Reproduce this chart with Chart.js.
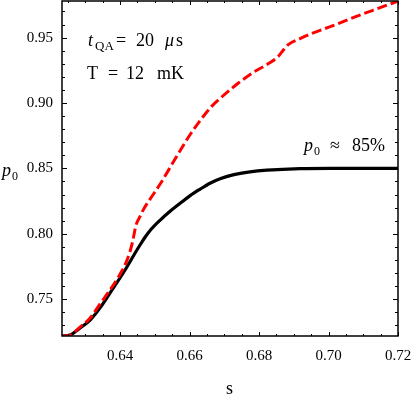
<!doctype html>
<html lang="en">
  <head>
    <meta charset="utf-8">
    <title>p0 vs s</title>
    <script src="https://cdn.jsdelivr.net/npm/chart.js"></script>
    <style>
      html, body { margin: 0; padding: 0; background: #fff; }
      #plot { display: block; }
    </style>
  </head>
  <body>
    <canvas id="plot" width="415" height="402"></canvas>
    <script>
      // values
      const sBlack = [0.6233, 0.6256, 0.6285, 0.6314, 0.6342, 0.6371, 0.6414, 0.6443, 0.6458, 0.6472, 0.6486, 0.6515, 0.6544,
                      0.6573, 0.6601, 0.6630, 0.6659, 0.6688, 0.6725, 0.6774, 0.6823, 0.6918, 0.7004, 0.7200];
      const pBlack = [0.7218, 0.7225, 0.7279, 0.7340, 0.7431, 0.7546, 0.7721, 0.7851, 0.7916, 0.7973, 0.8023, 0.8103, 0.8172,
                      0.8233, 0.8290, 0.8340, 0.8386, 0.8420, 0.8450, 0.8473, 0.8486, 0.8498, 0.8500, 0.8500];
      const sRed = [0.6233, 0.6256, 0.6285, 0.6314, 0.6342, 0.6371, 0.6400, 0.6414, 0.6429, 0.6437, 0.6446, 0.6458, 0.6466,
                    0.6486, 0.6515, 0.6558, 0.6601, 0.6639, 0.6665, 0.6688, 0.6737, 0.6783, 0.6832, 0.6855, 0.6869, 0.6884,
                    0.6918, 0.6947, 0.7013, 0.7082, 0.7140, 0.7200];
      const pRed = [0.7218, 0.7225, 0.7286, 0.7355, 0.7462, 0.7569, 0.7691, 0.7760, 0.7866, 0.7950, 0.8065, 0.8134, 0.8179,
                    0.8263, 0.8378, 0.8569, 0.8755, 0.8895, 0.8978, 0.9035, 0.9145, 0.9233, 0.9309, 0.9355, 0.9401, 0.9447,
                    0.9492, 0.9527, 0.9592, 0.9664, 0.9721, 0.9779];
      const xTicks = [0.64, 0.66, 0.68, 0.70, 0.72];
      const yTicks = [0.75, 0.80, 0.85, 0.90, 0.95];
      const xMinor = 0.005, yMinor = 0.01;
      const xRange = [0.6233, 0.72], yRange = [0.7218, 0.978];

      const serif = "'Liberation Serif', 'DejaVu Serif', serif";
      const pts = (xs, ys) => xs.map((x, i) => ({ x: x, y: ys[i] }));
      const noPad = s => { s.paddingLeft = 0; s.paddingRight = 0; s.paddingTop = 0; s.paddingBottom = 0; };

      // frame, inward ticks on all four sides, and the text labels
      const framePlugin = {
        id: 'frame',
        afterDraw(chart) {
          const ctx = chart.ctx, a = chart.chartArea;
          const xs = chart.scales.x, ys = chart.scales.y;
          ctx.save();
          ctx.strokeStyle = '#000';
          ctx.lineWidth = 1;
          ctx.beginPath();
          for (let v = Math.ceil(xRange[0] / xMinor) * xMinor; v <= xRange[1] + 1e-9; v += xMinor) {
            const major = xTicks.some(t => Math.abs(t - v) < 1e-6);
            const len = major ? 4 : 2;
            const px = Math.round(xs.getPixelForValue(v)) + 0.5;
            ctx.moveTo(px, a.bottom); ctx.lineTo(px, a.bottom - len);
            ctx.moveTo(px, a.top); ctx.lineTo(px, a.top + len);
          }
          for (let v = Math.ceil(yRange[0] / yMinor) * yMinor; v <= yRange[1] + 1e-9; v += yMinor) {
            const major = yTicks.some(t => Math.abs(t - v) < 1e-6);
            const len = major ? 5 : 3;
            const py = Math.round(ys.getPixelForValue(v)) + 0.5;
            ctx.moveTo(a.left, py); ctx.lineTo(a.left + len, py);
            ctx.moveTo(a.right, py); ctx.lineTo(a.right - len, py);
          }
          ctx.stroke();
          ctx.lineWidth = 1.5;
          ctx.strokeRect(a.left, a.top, a.right - a.left, a.bottom - a.top);

          ctx.fillStyle = '#000';
          ctx.textBaseline = 'alphabetic';
          const txt = (s, x, y, size, italic) => {
            ctx.font = (italic ? 'italic ' : '') + size + 'px ' + serif;
            ctx.fillText(s, x, y);
          };
          // annotations
          txt('t', 88, 46, 18, true);
          txt('QA', 95, 50, 13, false);
          txt('=', 116, 46, 18, false);
          txt('20', 136, 46, 18, false);
          txt('\u03bc', 165, 46, 18, true);
          txt('s', 176, 46, 18, false);
          txt('T', 87, 79, 18, false);
          txt('=', 108, 79, 18, false);
          txt('12', 126, 79, 18, false);
          txt('mK', 157, 79, 18, false);
          txt('p', 304, 151, 18, true);
          txt('0', 314, 155, 12, false);
          txt('\u2248', 330, 151, 18, false);
          txt('85%', 352, 151, 18, false);
          // axis titles
          txt('p', 2, 176, 18, true);
          txt('0', 12, 180, 12, false);
          txt('s', 226, 394, 18, false);
          ctx.restore();
        }
      };

      new Chart(document.getElementById('plot'), {
        type: 'line',
        data: {
          datasets: [
            { label: 'red', data: pts(sRed, pRed), borderColor: '#ff0000', borderWidth: 3, borderDash: [10, 4],
              pointRadius: 0, fill: false, cubicInterpolationMode: 'monotone' },
            { label: 'black', data: pts(sBlack, pBlack), borderColor: '#000000', borderWidth: 3.2,
              pointRadius: 0, fill: false, cubicInterpolationMode: 'monotone' }
          ]
        },
        options: {
          responsive: false,
          animation: false,
          devicePixelRatio: 1,
          layout: { padding: { top: 1, right: 17, left: 0, bottom: 0 } },
          plugins: { legend: { display: false }, tooltip: { enabled: false } },
          scales: {
            x: {
              type: 'linear', min: xRange[0], max: xRange[1],
              afterBuildTicks: s => { s.ticks = xTicks.map(v => ({ value: v })); },
              afterFit: s => { s.height = 66; noPad(s); },
              grid: { display: false, drawTicks: false },
              border: { display: false },
              ticks: { color: '#000', font: { family: serif, size: 15 }, padding: 11, maxRotation: 0,
                       callback: v => v.toFixed(2) }
            },
            y: {
              type: 'linear', min: yRange[0], max: yRange[1],
              afterBuildTicks: s => { s.ticks = yTicks.map(v => ({ value: v })); },
              afterFit: s => { s.width = 62; noPad(s); },
              grid: { display: false, drawTicks: false },
              border: { display: false },
              ticks: { color: '#000', font: { family: serif, size: 15 }, padding: 9,
                       callback: v => v.toFixed(2) }
            }
          }
        },
        plugins: [framePlugin]
      });
    </script>
  </body>
</html>
